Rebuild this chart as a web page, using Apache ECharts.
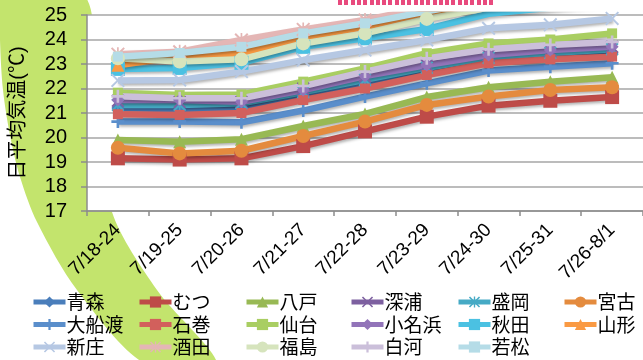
<!DOCTYPE html>
<html>
<head>
<meta charset="utf-8">
<script src="https://cdn.jsdelivr.net/npm/echarts@6/dist/echarts.min.js"></script>
<style>
html,body{margin:0;padding:0;background:#fff;}
#wrap{position:relative;width:643px;height:360px;overflow:hidden;}
#main{width:643px;height:360px;}
#deco{position:absolute;left:338px;top:0;width:157px;height:5px;z-index:10;
  background:repeating-linear-gradient(90deg,#E84A7E 0,#E84A7E 4px,transparent 4px,transparent 6.3px);}
</style>
</head>
<body>
<div id="wrap">
<div id="main"></div>
<div id="deco"></div>
</div>
<script>
// 週（7日間）ごとの日平均気温
var categories = ['7/18-24','7/19-25','7/20-26','7/21-27','7/22-28','7/23-29','7/24-30','7/25-31','7/26-8/1'];
var yTicks = [17, 25, 1];

var aomori     = [21.2, 21.15, 21.2, 21.7, 22.2, 22.75, 23.15, 23.3, 23.45];
var mutsu      = [19.15, 19.1, 19.15, 19.65, 20.25, 20.85, 21.3, 21.5, 21.65];
var hachinohe  = [19.9, 19.83, 19.93, 20.47, 20.96, 21.65, 22.05, 22.28, 22.46];
var fukaura    = [21.5, 21.45, 21.45, 22.0, 22.5, 22.95, 23.35, 23.55, 23.7];
var morioka    = [21.33, 21.33, 21.4, 21.85, 22.35, 22.85, 23.25, 23.45, 23.6];
var miyako     = [19.58, 19.35, 19.46, 20.06, 20.65, 21.33, 21.67, 21.94, 22.05];
var ofunato    = [20.65, 20.65, 20.62, 21.1, 21.67, 22.21, 22.73, 22.89, 23.03];
var ishinomaki = [20.95, 20.92, 21.0, 21.53, 22.0, 22.55, 23.03, 23.19, 23.3];
var sendai     = [21.83, 21.73, 21.76, 22.28, 22.82, 23.44, 23.84, 24.0, 24.25];
var onahama    = [21.53, 21.53, 21.46, 21.94, 22.51, 22.96, 23.37, 23.57, 23.7];
var akita      = [22.8, 22.84, 23.05, 23.7, 24.05, 24.43, 25.05, 25.3, 25.5];
var yamagata   = [22.95, 23.3, 23.44, 24.09, 24.52, 25.1, 25.5, 25.7, 25.9];
var shinjo     = [22.33, 22.35, 22.69, 23.16, 23.57, 23.98, 24.46, 24.6, 24.86];
var sakata     = [23.4, 23.5, 23.98, 24.41, 24.8, 25.3, 25.7, 25.9, 26.1];
var fukushima  = [23.23, 23.1, 23.19, 23.84, 24.25, 24.84, 25.3, 25.5, 25.7];
var shirakawa  = [21.68, 21.6, 21.6, 22.1, 22.69, 23.23, 23.6, 23.78, 23.9];
var wakamatsu  = [23.3, 23.45, 23.7, 24.25, 24.66, 25.15, 25.6, 25.8, 26.0];

// マーカー
var PLUS = 'path://M4,0H6V4H10V6H6V10H4V6H0V4H4Z';
var CROSS = 'path://M1,0L5,4L9,0L10,1L6,5L10,9L9,10L5,6L1,10L0,9L4,5L0,1Z';
var STAR = 'path://M1,0L5,4L9,0L10,1L6,5L10,9L9,10L5,6L1,10L0,9L4,5L0,1Z M4.4,0H5.6V10H4.4Z';
var DASH = 'path://M0,4H10V6H0Z';

var stations = [
    ['青森', aomori, '#4A7EBB', 'diamond', 13],
    ['むつ', mutsu, '#BE4B48', 'rect', 14],
    ['八戸', hachinohe, '#98B954', 'triangle', 13],
    ['深浦', fukaura, '#7D60A0', CROSS, 13],
    ['盛岡', morioka, '#46AAC5', STAR, 13],
    ['宮古', miyako, '#E48B3E', 'circle', 14],
    ['大船渡', ofunato, '#5A8ECB', PLUS, 13],
    ['石巻', ishinomaki, '#D2605C', DASH, 10],
    ['仙台', sendai, '#A9CE62', DASH, 10],
    ['小名浜', onahama, '#9274B9', 'diamond', 13],
    ['秋田', akita, '#4BC1E2', 'rect', 14],
    ['山形', yamagata, '#FA9A43', 'triangle', 13],
    ['新庄', shinjo, '#B6C8E3', CROSS, 14],
    ['酒田', sakata, '#E4B6B5', STAR, 14],
    ['福島', fukushima, '#D6E4BD', 'circle', 14],
    ['白河', shirakawa, '#CBBFDA', PLUS, 13],
    ['若松', wakamatsu, '#B5DCE7', DASH, 10]
];

var chart = echarts.init(document.getElementById('main'));

var series = [];
for (var i = 0; i < stations.length; i++) {
    var s = stations[i];
    series.push({
        name: s[0],
        type: 'line',
        data: s[1],
        symbol: s[3],
        symbolSize: s[4],
        showSymbol: true,
        showAllSymbol: true,
        clip: true,
        itemStyle: {color: s[2], borderWidth: 0},
        lineStyle: {
            color: s[2], width: 6.5,
            shadowColor: 'rgba(0,0,0,0.3)', shadowBlur: 3, shadowOffsetX: 1, shadowOffsetY: 2
        }
    });
}

// 凡例は 6 列 × 3 行
var cols = [
    ['青森', '大船渡', '新庄'],
    ['むつ', '石巻', '酒田'],
    ['八戸', '仙台', '福島'],
    ['深浦', '小名浜', '白河'],
    ['盛岡', '秋田', '若松'],
    ['宮古', '山形']
];
var colX = [31, 137, 244, 349, 456, 562];
var legends = [];
for (var c = 0; c < cols.length; c++) {
    legends.push({
        data: cols[c],
        orient: 'vertical',
        left: colX[c],
        top: 292,
        padding: 0,
        itemWidth: 32,
        itemHeight: 14,
        itemGap: 2.5,
        selectedMode: false,
        lineStyle: {width: 5},
        textStyle: {fontSize: 19, lineHeight: 20, color: '#000', fontFamily: 'Noto Sans CJK JP', padding: [0, 0, 0, -4]}
    });
}

var option = {
    animation: false,
    backgroundColor: '#fff',
    graphic: [
        {
            // 背景の緑の帯
            type: 'polygon', z: -10, silent: true,
            shape: {
                points: [[0, -5], [84, -5], [95, 100], [112, 212], [157, 290], [217, 365],
                         [147, 365], [77, 290], [37, 222], [20, 177], [10, 135], [3, 90], [0, 40]],
                smooth: 0.3
            },
            style: {fill: '#C3E46D'}
        }
    ],
    grid: {
        left: 77, top: 15, width: 570, height: 196,
        show: true, backgroundColor: '#fff', borderWidth: 0
    },
    legend: legends,
    xAxis: {
        type: 'category',
        data: categories,
        boundaryGap: true,
        axisLine: {lineStyle: {color: '#8C8C8C', width: 1.5}},
        axisTick: {show: true, length: 5, lineStyle: {color: '#8C8C8C', width: 1.5}},
        axisLabel: {rotate: 45, margin: 16, fontSize: 19, color: '#000', fontFamily: 'Liberation Sans', interval: 0}
    },
    yAxis: {
        type: 'value',
        min: yTicks[0], max: yTicks[1], interval: yTicks[2],
        name: '日平均気温(℃)',
        nameLocation: 'middle',
        nameGap: 59,
        nameRotate: 90,
        nameTextStyle: {fontSize: 20, color: '#000', fontFamily: '"Liberation Sans", "Noto Sans CJK JP"'},
        axisLine: {show: true, lineStyle: {color: '#8C8C8C', width: 1.5}},
        axisTick: {show: true, length: 6, lineStyle: {color: '#8C8C8C', width: 1.5}},
        axisLabel: {margin: 20, fontSize: 20, color: '#000', fontFamily: 'Liberation Sans'},
        splitLine: {lineStyle: {color: '#A6A6A6', width: 1.5}}
    },
    series: series
};
chart.setOption(option);
</script>
</body>
</html>
